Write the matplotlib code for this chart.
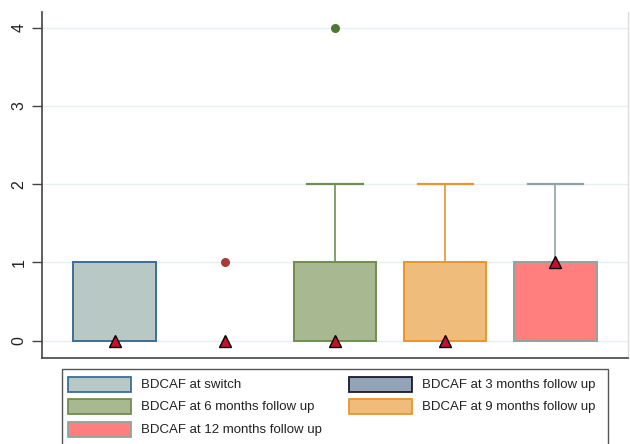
import matplotlib
matplotlib.use("Agg")
import matplotlib.pyplot as plt
from matplotlib.patches import Rectangle
from matplotlib.transforms import Affine2D

plt.rcParams["font.family"] = ["Liberation Sans", "DejaVu Sans"]

# Box summaries for each assessment point
categories = [
    "BDCAF at switch",
    "BDCAF at 3 months follow up",
    "BDCAF at 6 months follow up",
    "BDCAF at 9 months follow up",
    "BDCAF at 12 months follow up",
]
q1 = [0, 0, 0, 0, 0]
median = [0, 0, 0, 0, 1]
q3 = [1, 0, 1, 1, 1]
whisker_lo = [0, 0, 0, 0, 0]
whisker_hi = [1, 0, 2, 2, 2]
outliers = [[], [1], [4], [], []]
y_ticks = [0, 1, 2, 3, 4]

fills = ["#b8c8c4", "#94a4b8", "#a8b890", "#f0bc7c", "#ff7f7f"]
edges = ["#3d6e96", "#1a1a2a", "#6f8f4f", "#e8962e", "#8fa3a3"]
outlier_colors = ["#a83a3a", "#a83a3a", "#4f7a33", "#e8962e", "#8fa3a3"]

W, H = 630, 444
fig = plt.figure(figsize=(W / 100, H / 100), dpi=100)
ax = fig.add_axes([42 / W, 1 - 358 / H, 586 / W, 346 / H])

box_w = 0.75
cap_w = 0.5
for i in range(len(categories)):
    # whiskers
    if whisker_hi[i] > q3[i]:
        ax.plot([i, i], [q3[i], whisker_hi[i]], color=edges[i], lw=1.2, zorder=3)
        ax.plot([i - cap_w / 2, i + cap_w / 2], [whisker_hi[i]] * 2,
                color=edges[i], lw=1.6, zorder=3)
    if whisker_lo[i] < q1[i]:
        ax.plot([i, i], [whisker_lo[i], q1[i]], color=edges[i], lw=1.2, zorder=3)
        ax.plot([i - cap_w / 2, i + cap_w / 2], [whisker_lo[i]] * 2,
                color=edges[i], lw=1.6, zorder=3)
    # box
    if q3[i] > q1[i]:
        ax.bar(i, q3[i] - q1[i], bottom=q1[i], width=box_w, color=fills[i],
               edgecolor=edges[i], linewidth=1.4, zorder=4)
    # outside values
    for v in outliers[i]:
        ax.plot(i, v, "o", color=outlier_colors[i], markersize=6.5,
                markeredgewidth=0, zorder=5)
    # median marker
    ax.plot(i, median[i], "^", color="#c8102e", markeredgecolor="black",
            markeredgewidth=1.0, markersize=9, zorder=6)

ax.set_xlim(-0.66, 4.66)
ax.set_ylim(-0.22, 4.2)
ax.set_xticks([])
ax.set_yticks(y_ticks)
ax.set_yticklabels([str(t) for t in y_ticks], rotation=90, va="center",
                   fontsize=11.5, color="#222222")
ax.tick_params(axis="y", length=7, width=1.0, color="#444444", pad=4)
ax.grid(axis="y", color="#e8eff0", lw=1.0, zorder=0)
ax.set_axisbelow(True)

ax.spines["top"].set_visible(False)
ax.spines["left"].set_color("#444444")
ax.spines["left"].set_linewidth(1.2)
ax.spines["bottom"].set_color("#444444")
ax.spines["bottom"].set_linewidth(1.2)
ax.spines["right"].set_color("#dddddd")
ax.spines["right"].set_linewidth(1.0)

# Legend laid out in pixel coordinates (origin top-left), filled row by row
px = Affine2D().scale(1 / W, -1 / H).translate(0, 1) + fig.transFigure
fig.patches.append(Rectangle((62, 369), 546, 90, transform=px, fill=False,
                             edgecolor="#555555", linewidth=1.0))
col_x = [68, 349]
row_y = [384.5, 406.5, 429.5]
key_w, key_h = 63, 15
for k, label in enumerate(categories):
    r, c = divmod(k, 2)
    x0, yc = col_x[c], row_y[r]
    fig.patches.append(Rectangle((x0, yc - key_h / 2), key_w, key_h,
                                 transform=px, facecolor=fills[k],
                                 edgecolor=edges[k], linewidth=1.3))
    fig.text(x0 + key_w + 10, yc, label, transform=px, fontsize=9.5,
             color="#222222", va="center", ha="left")

fig.savefig("out.png", dpi=100)
